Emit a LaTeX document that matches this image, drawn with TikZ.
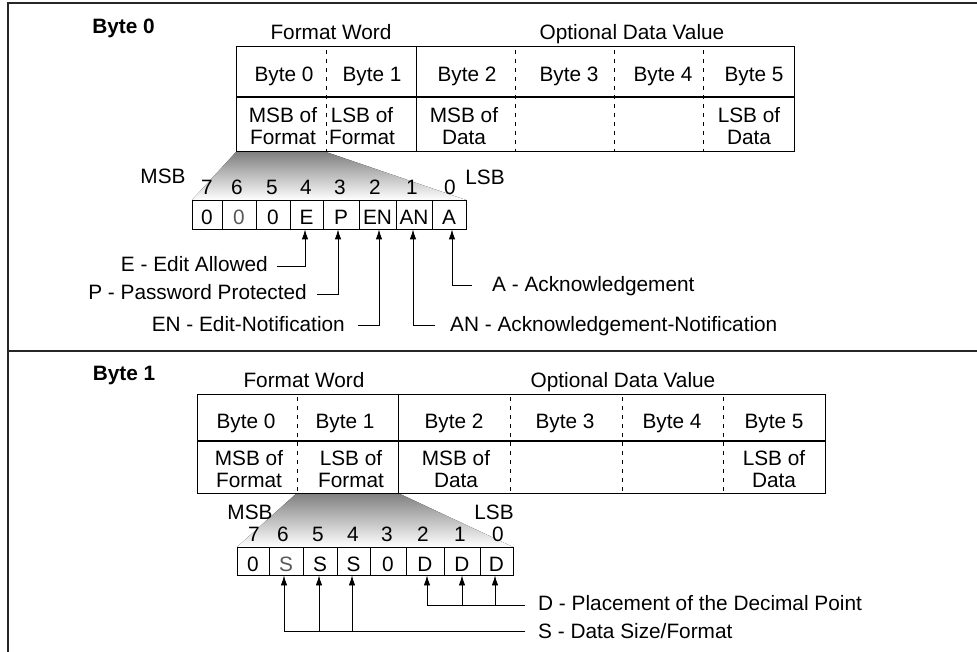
\documentclass[tikz,border=0pt]{standalone}
\usepackage{fontspec}
\setmainfont{Liberation Sans}
\usetikzlibrary{arrows.meta}
\definecolor{shade}{gray}{0.78}
\definecolor{lite}{gray}{0.35}
\begin{document}
\begin{tikzpicture}[x=1pt,y=-1pt,
  txt/.style={inner sep=0pt, font=\fontsize{20.8}{22}\selectfont},
  btxt/.style={txt, anchor=base},
  ttl/.style={inner sep=0pt, anchor=base, font=\fontsize{20.8}{22}\selectfont\bfseries},
  two/.style={txt, align=center},
  bitcell/.style={draw, line width=0.9pt, inner sep=0pt, text height=20pt, text depth=0pt, font=\fontsize{20.8}{22}\selectfont},
  framel/.style={line width=1.6pt, draw=black!85},
  tbl/.style={line width=1pt},
  dsh/.style={line width=1pt, dash pattern=on 4pt off 5pt},
  arr/.style={line width=0.9pt, -{Latex[length=10pt,width=6.5pt]}},
  ln/.style={line width=0.9pt}]
\useasboundingbox (0,0) rectangle (977,652);
\fill[white] (0,0) rectangle (977,652);
% frame
\draw[framel] (977,3) -- (8,3) -- (8,652);
\draw[framel] (8,351) -- (977,351);

% ================= TOP SECTION =================
\node[ttl] (t0) at (123.5,34) {Byte 0};
\node[btxt] (fwA) at (331,40) {Format Word};
\node[btxt] (odA) at (632,40) {Optional Data Value};
% gray wedge
\fill[shade] (236,152) -- (326,152) -- (466,200) -- (192,200) -- cycle;
% table
\draw[tbl] (236,47) rectangle (794,152);
\draw[line width=1.5pt] (236,97) -- (794,97);
\draw[tbl] (416,47) -- (416,152);
\foreach \x in {326,515,614,703} \draw[dsh] (\x,50) -- (\x,152);
\node[btxt] (a0) at (284,82) {Byte 0};
\node[btxt] (a1) at (372,82) {Byte 1};
\node[btxt] (a2) at (467,82) {Byte 2};
\node[btxt] (a3) at (569,82) {Byte 3};
\node[btxt] (a4) at (663,82) {Byte 4};
\node[btxt] (a5) at (754,82) {Byte 5};
\node[two] (am0) at (283,126) {MSB of\\Format};
\node[two] (am1) at (362,126) {LSB of\\Format};
\node[two] (am2) at (464,126) {MSB of\\Data};
\node[two] (am5) at (749,126) {LSB of\\Data};
% bit numbers
\node[btxt] (msbA) at (163,183.5) {MSB};
\node[btxt] (lsbA) at (485,185) {LSB};
\foreach \n/\x in {7/207,6/237,5/272,4/306,3/340,2/375,1/412,0/450}
  \node[btxt] (nA\n) at (\x,194.5) {\n};
% bit cells
\node[bitcell, minimum width=30pt, minimum height=29pt] (cA7) at (207,214.5) {0};
\node[bitcell, minimum width=34pt, minimum height=29pt, text=lite] (cA6) at (239,214.5) {0};
\node[bitcell, minimum width=34pt, minimum height=29pt] (cA5) at (273,214.5) {0};
\node[bitcell, minimum width=33pt, minimum height=29pt] (cE) at (306.5,214.5) {E};
\node[bitcell, minimum width=36pt, minimum height=29pt] (cP) at (341,214.5) {P};
\node[bitcell, minimum width=37pt, minimum height=29pt] (cEN) at (377.5,214.5) {EN};
\node[bitcell, minimum width=36pt, minimum height=29pt] (cAN) at (414,214.5) {AN};
\node[bitcell, minimum width=34pt, minimum height=29pt] (cA) at (449,214.5) {A};
% labels
\node[txt, anchor=base east] (lE) at (268,272) {E - Edit Allowed};
\node[txt, anchor=base east] (lP) at (307,300) {P - Password Protected};
\node[txt, anchor=base east] (lEN) at (345,331) {EN - Edit-Notification};
\node[txt, anchor=base west] (lAN) at (450,331) {AN - Acknowledgement-Notification};
\node[txt, anchor=base west] (lA) at (492,292) {A - Acknowledgement};
\coordinate (eE) at (277,266);
\coordinate (eP) at (317,294);
\coordinate (eEN) at (358,325);
\coordinate (eAN) at (435,325);
\coordinate (eA) at (472,285);
\draw[arr] (eE) -| ([xshift=-1.5pt]cE.south);
\draw[arr] (eP) -| ([xshift=-3pt]cP.south);
\draw[arr] (eEN) -| ([xshift=1.5pt]cEN.south);
\draw[arr] (eAN) -| ([xshift=-1pt]cAN.south);
\draw[arr] (eA) -| ([xshift=3pt]cA.south);

% ================= BOTTOM SECTION =================
\node[ttl] (t1) at (124,380) {Byte 1};
\node[btxt] (fwB) at (304,387.5) {Format Word};
\node[btxt] (odB) at (623,387.5) {Optional Data Value};
\fill[shade] (297,493) -- (398,493) -- (513,547) -- (237,547) -- cycle;
\draw[tbl] (197,394) rectangle (825,493);
\draw[line width=1.5pt] (197,441) -- (825,441);
\draw[tbl] (398,394) -- (398,493);
\foreach \x in {297,510,622,723} \draw[dsh] (\x,397) -- (\x,493);
\node[btxt] (b0) at (246,428.5) {Byte 0};
\node[btxt] (b1) at (345,428.5) {Byte 1};
\node[btxt] (b2) at (454,428.5) {Byte 2};
\node[btxt] (b3) at (565,428.5) {Byte 3};
\node[btxt] (b4) at (672,428.5) {Byte 4};
\node[btxt] (b5) at (774,428.5) {Byte 5};
\node[two] (bm0) at (249,469.5) {MSB of\\Format};
\node[two] (bm1) at (351,469.5) {LSB of\\Format};
\node[two] (bm2) at (456,469.5) {MSB of\\Data};
\node[two] (bm5) at (774,469.5) {LSB of\\Data};
\node[btxt] (msbB) at (250,519) {MSB};
\node[btxt] (lsbB) at (494,519) {LSB};
\foreach \n/\x in {7/254,6/283,5/318,4/353,3/387,2/423,1/460,0/498}
  \node[btxt] (nB\n) at (\x,541.5) {\n};
\node[bitcell, minimum width=32pt, minimum height=28pt] (cB7) at (253,561) {0};
\node[bitcell, minimum width=34pt, minimum height=28pt, text=lite] (cS6) at (286,561) {S};
\node[bitcell, minimum width=34pt, minimum height=28pt] (cS5) at (320,561) {S};
\node[bitcell, minimum width=33pt, minimum height=28pt] (cS4) at (353.5,561) {S};
\node[bitcell, minimum width=36pt, minimum height=28pt] (cB3) at (388,561) {0};
\node[bitcell, minimum width=38pt, minimum height=28pt] (cD2) at (425,561) {D};
\node[bitcell, minimum width=36pt, minimum height=28pt] (cD1) at (462,561) {D};
\node[bitcell, minimum width=33pt, minimum height=28pt] (cD0) at (496.5,561) {D};
\node[txt, anchor=base west] (lD) at (538,610) {D - Placement of the Decimal Point};
\node[txt, anchor=base west] (lS) at (538,638) {S - Data Size/Format};
\coordinate (eD) at (525,605);
\coordinate (eS) at (525,631);
\draw[arr] (eD) -| ([xshift=2pt]cD2.south);
\draw[arr] (cD1.south |- eD) -- (cD1.south);
\draw[arr] ([xshift=-1.5pt]cD0.south |- eD) -- ([xshift=-1.5pt]cD0.south);
\draw[arr] (eS) -| ([xshift=-2pt]cS6.south);
\draw[arr] ([xshift=-1pt]cS5.south |- eS) -- ([xshift=-1pt]cS5.south);
\draw[arr] ([xshift=-1.5pt]cS4.south |- eS) -- ([xshift=-1.5pt]cS4.south);
\end{tikzpicture}
\end{document}
